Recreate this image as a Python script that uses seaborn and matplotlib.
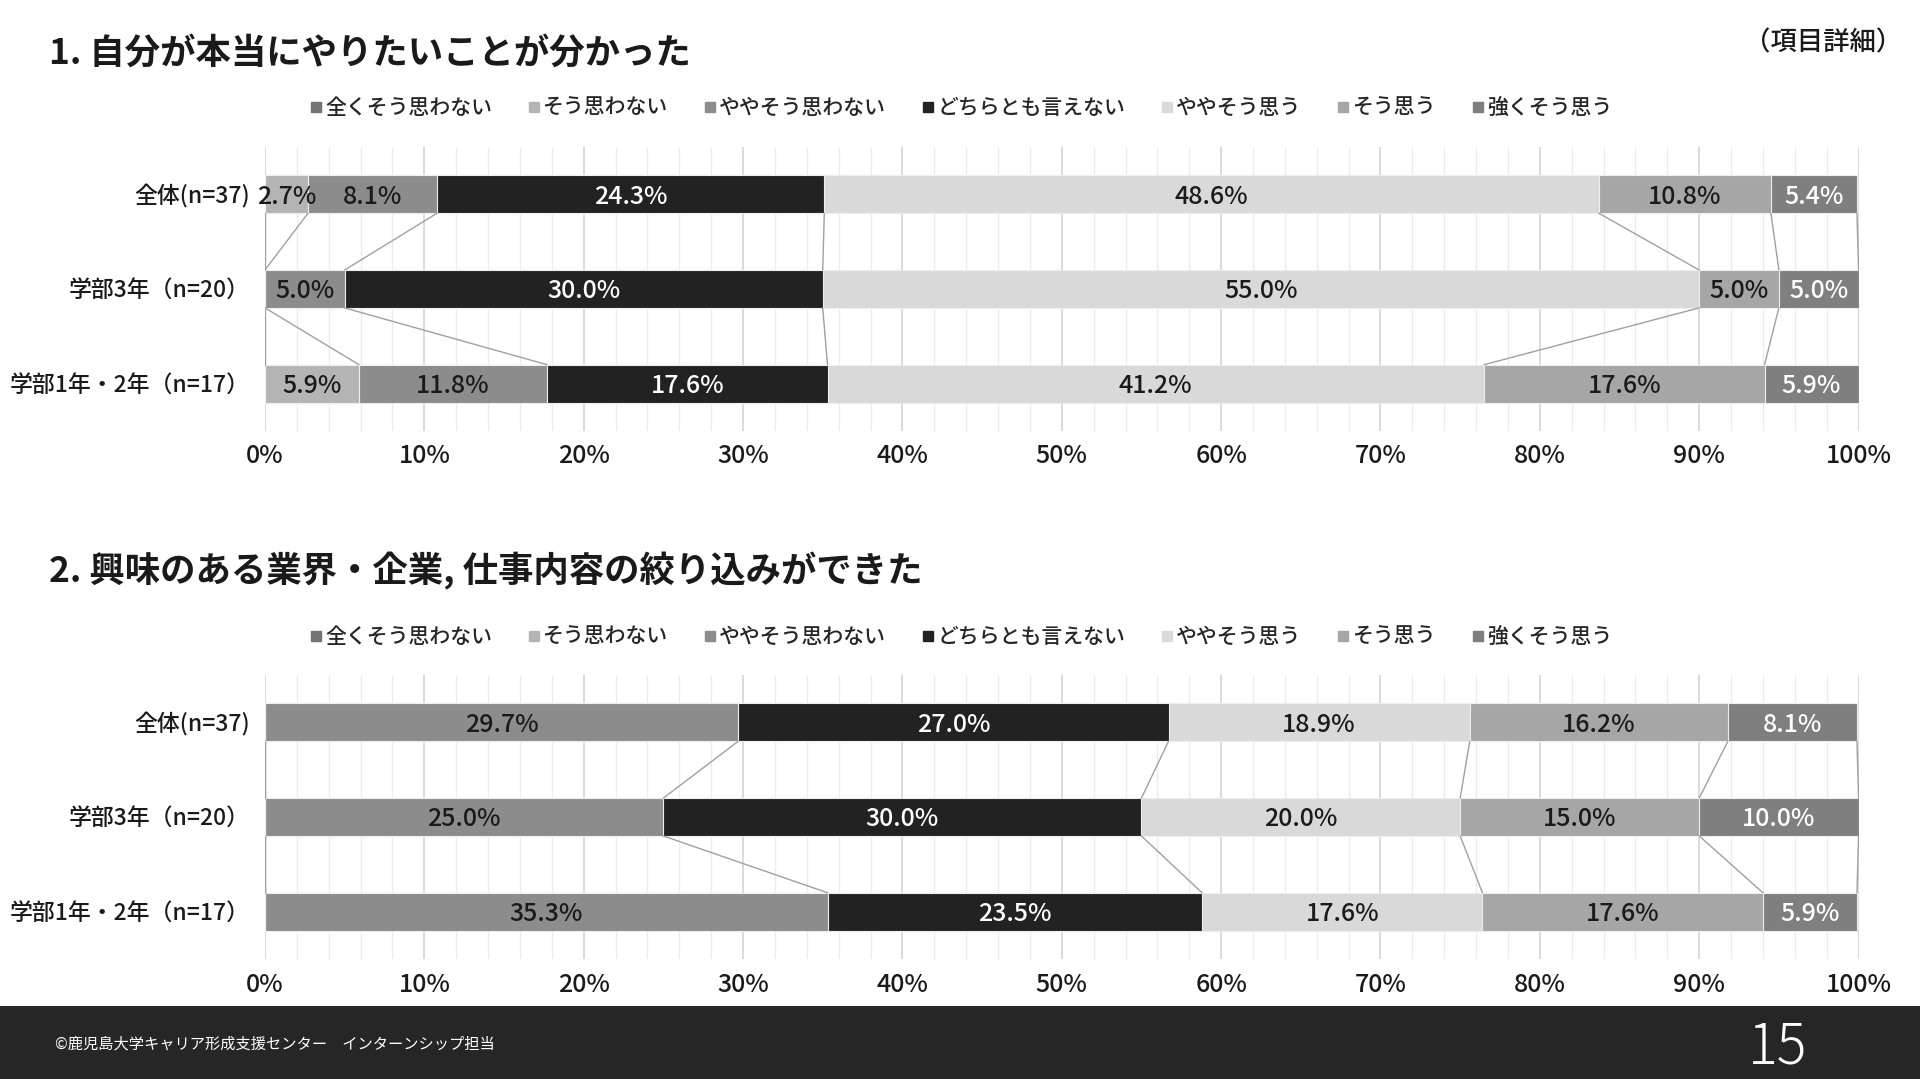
import numpy as np
import pandas as pd
import matplotlib.pyplot as plt
import seaborn as sns
from matplotlib.lines import Line2D
from matplotlib.patches import Rectangle
from matplotlib.ticker import MultipleLocator

# ==========================================
# DATA
# ==========================================

categories = ["全くそう思わない", "そう思わない", "ややそう思わない", "どちらとも言えない",
              "ややそう思う", "そう思う", "強くそう思う"]
groups = ["全体(n=37)", "学部3年（n=20）", "学部1年・2年（n=17）"]

# Q1
q1_all = [0, 2.7, 8.1, 24.3, 48.6, 10.8, 5.4]
q1_y3 = [0, 0, 5.0, 30.0, 55.0, 5.0, 5.0]
q1_y12 = [0, 5.9, 11.8, 17.6, 41.2, 17.6, 5.9]

# Q2
q2_all = [0, 0, 29.7, 27.0, 18.9, 16.2, 8.1]
q2_y3 = [0, 0, 25.0, 30.0, 20.0, 15.0, 10.0]
q2_y12 = [0, 0, 35.3, 23.5, 17.6, 17.6, 5.9]

x_ticks = [0, 10, 20, 30, 40, 50, 60, 70, 80, 90, 100]

title1 = "1. 自分が本当にやりたいことが分かった"
title2 = "2. 興味のある業界・企業, 仕事内容の絞り込みができた"

# ==========================================
# STYLE
# ==========================================

colors = ["#737373", "#b4b4b4", "#8c8c8c", "#222222", "#d9d9d9", "#a6a6a6", "#7f7f7f"]
label_colors = ["#1a1a1a", "#1a1a1a", "#1a1a1a", "white", "#1a1a1a", "#1a1a1a", "white"]

sns.set_theme(style="white")
plt.rcParams["font.family"] = ["Noto Sans CJK JP", "DejaVu Sans"]

fig = plt.figure(figsize=(19.2, 10.79), dpi=100)
fig.patch.set_facecolor("white")

BAR_W = 0.4


def draw_chart(ax, rows):
    data = np.array(rows)
    cum = np.cumsum(data, axis=1)

    # stacked bars: draw cumulative layers from the longest down
    for k in range(len(categories) - 1, -1, -1):
        df = pd.DataFrame({"group": groups, "value": cum[:, k]})
        sns.barplot(data=df, x="value", y="group", orient="h", color=colors[k],
                    saturation=1, width=BAR_W, edgecolor="#eeeeee", linewidth=0.8,
                    ax=ax, zorder=2)

    # series lines between rows
    for i in range(len(groups) - 1):
        for k in range(len(categories)):
            ax.plot([cum[i, k], cum[i + 1, k]],
                    [i + BAR_W / 2, i + 1 - BAR_W / 2],
                    color="#a0a0a0", lw=1.0, zorder=3)

    # data labels
    for i in range(len(groups)):
        for k in range(len(categories)):
            v = data[i, k]
            if v <= 0:
                continue
            ax.text(cum[i, k] - v / 2, i + 0.025, f"{v:.1f}%", ha="center", va="center",
                    fontsize=18, fontweight="medium", color=label_colors[k], zorder=4)

    ax.set_xlim(0, 100)
    ax.set_ylim(2.5, -0.5)
    ax.set_xticks(x_ticks)
    ax.set_xticklabels([f"{t}%" for t in x_ticks], fontsize=18, fontweight="medium",
                       color="#1a1a1a")
    ax.set_yticks(range(len(groups)))
    ax.set_yticklabels(groups, fontsize=16.5, fontweight="medium", color="#1a1a1a")
    ax.xaxis.set_minor_locator(MultipleLocator(2))
    ax.grid(which="major", axis="x", color="#d4d4d4", lw=1.2, zorder=0)
    ax.grid(which="minor", axis="x", color="#ececec", lw=1.0, zorder=0)
    ax.grid(which="major", axis="y", visible=False)
    ax.set_axisbelow(True)
    ax.tick_params(axis="x", which="both", length=0, pad=9)
    ax.tick_params(axis="y", length=0, pad=11)
    ax.set_xlabel("")
    ax.set_ylabel("")
    for s in ax.spines.values():
        s.set_visible(False)


ax1 = fig.add_axes([0.138, 0.6006, 0.830, 0.2632])
draw_chart(ax1, [q1_all, q1_y3, q1_y12])

ax2 = fig.add_axes([0.138, 0.1112, 0.830, 0.2632])
draw_chart(ax2, [q2_all, q2_y3, q2_y12])

# ==========================================
# TITLES AND LEGENDS
# ==========================================

fig.text(0.0255, 0.951, title1, fontsize=25.5, fontweight="bold", color="#1a1a1a",
         ha="left", va="center")
fig.text(0.0255, 0.4708, title2, fontsize=25.5, fontweight="bold", color="#1a1a1a",
         ha="left", va="center")
fig.text(0.991, 0.960, "（項目詳細）", fontsize=19, fontweight="medium", color="#1a1a1a",
         ha="right", va="center")

handles = [Line2D([0], [0], marker="s", linestyle="none", markersize=7,
                  markerfacecolor=c, markeredgecolor=c) for c in colors]

for y in [0.8999, 0.4096]:
    fig.legend(handles, categories, loc="center", bbox_to_anchor=(0.5005, y),
               ncol=7, frameon=False, handlelength=0.6,
               handletextpad=0.15, columnspacing=1.7, borderaxespad=0,
               prop={"size": 15, "weight": "medium"})

# ==========================================
# FOOTER
# ==========================================

fig.add_artist(Rectangle((0, 0), 1, 0.0677, transform=fig.transFigure,
                         facecolor="#262626", edgecolor="none", zorder=0))
fig.text(0.0286, 0.0324, "©鹿児島大学キャリア形成支援センター　インターンシップ担当",
         fontsize=11, color="white", ha="left", va="center")
fig.text(0.926, 0.0297, "15", fontsize=40, color="white", fontweight="light",
         ha="center", va="center")

fig.savefig("out.png", dpi=100)
